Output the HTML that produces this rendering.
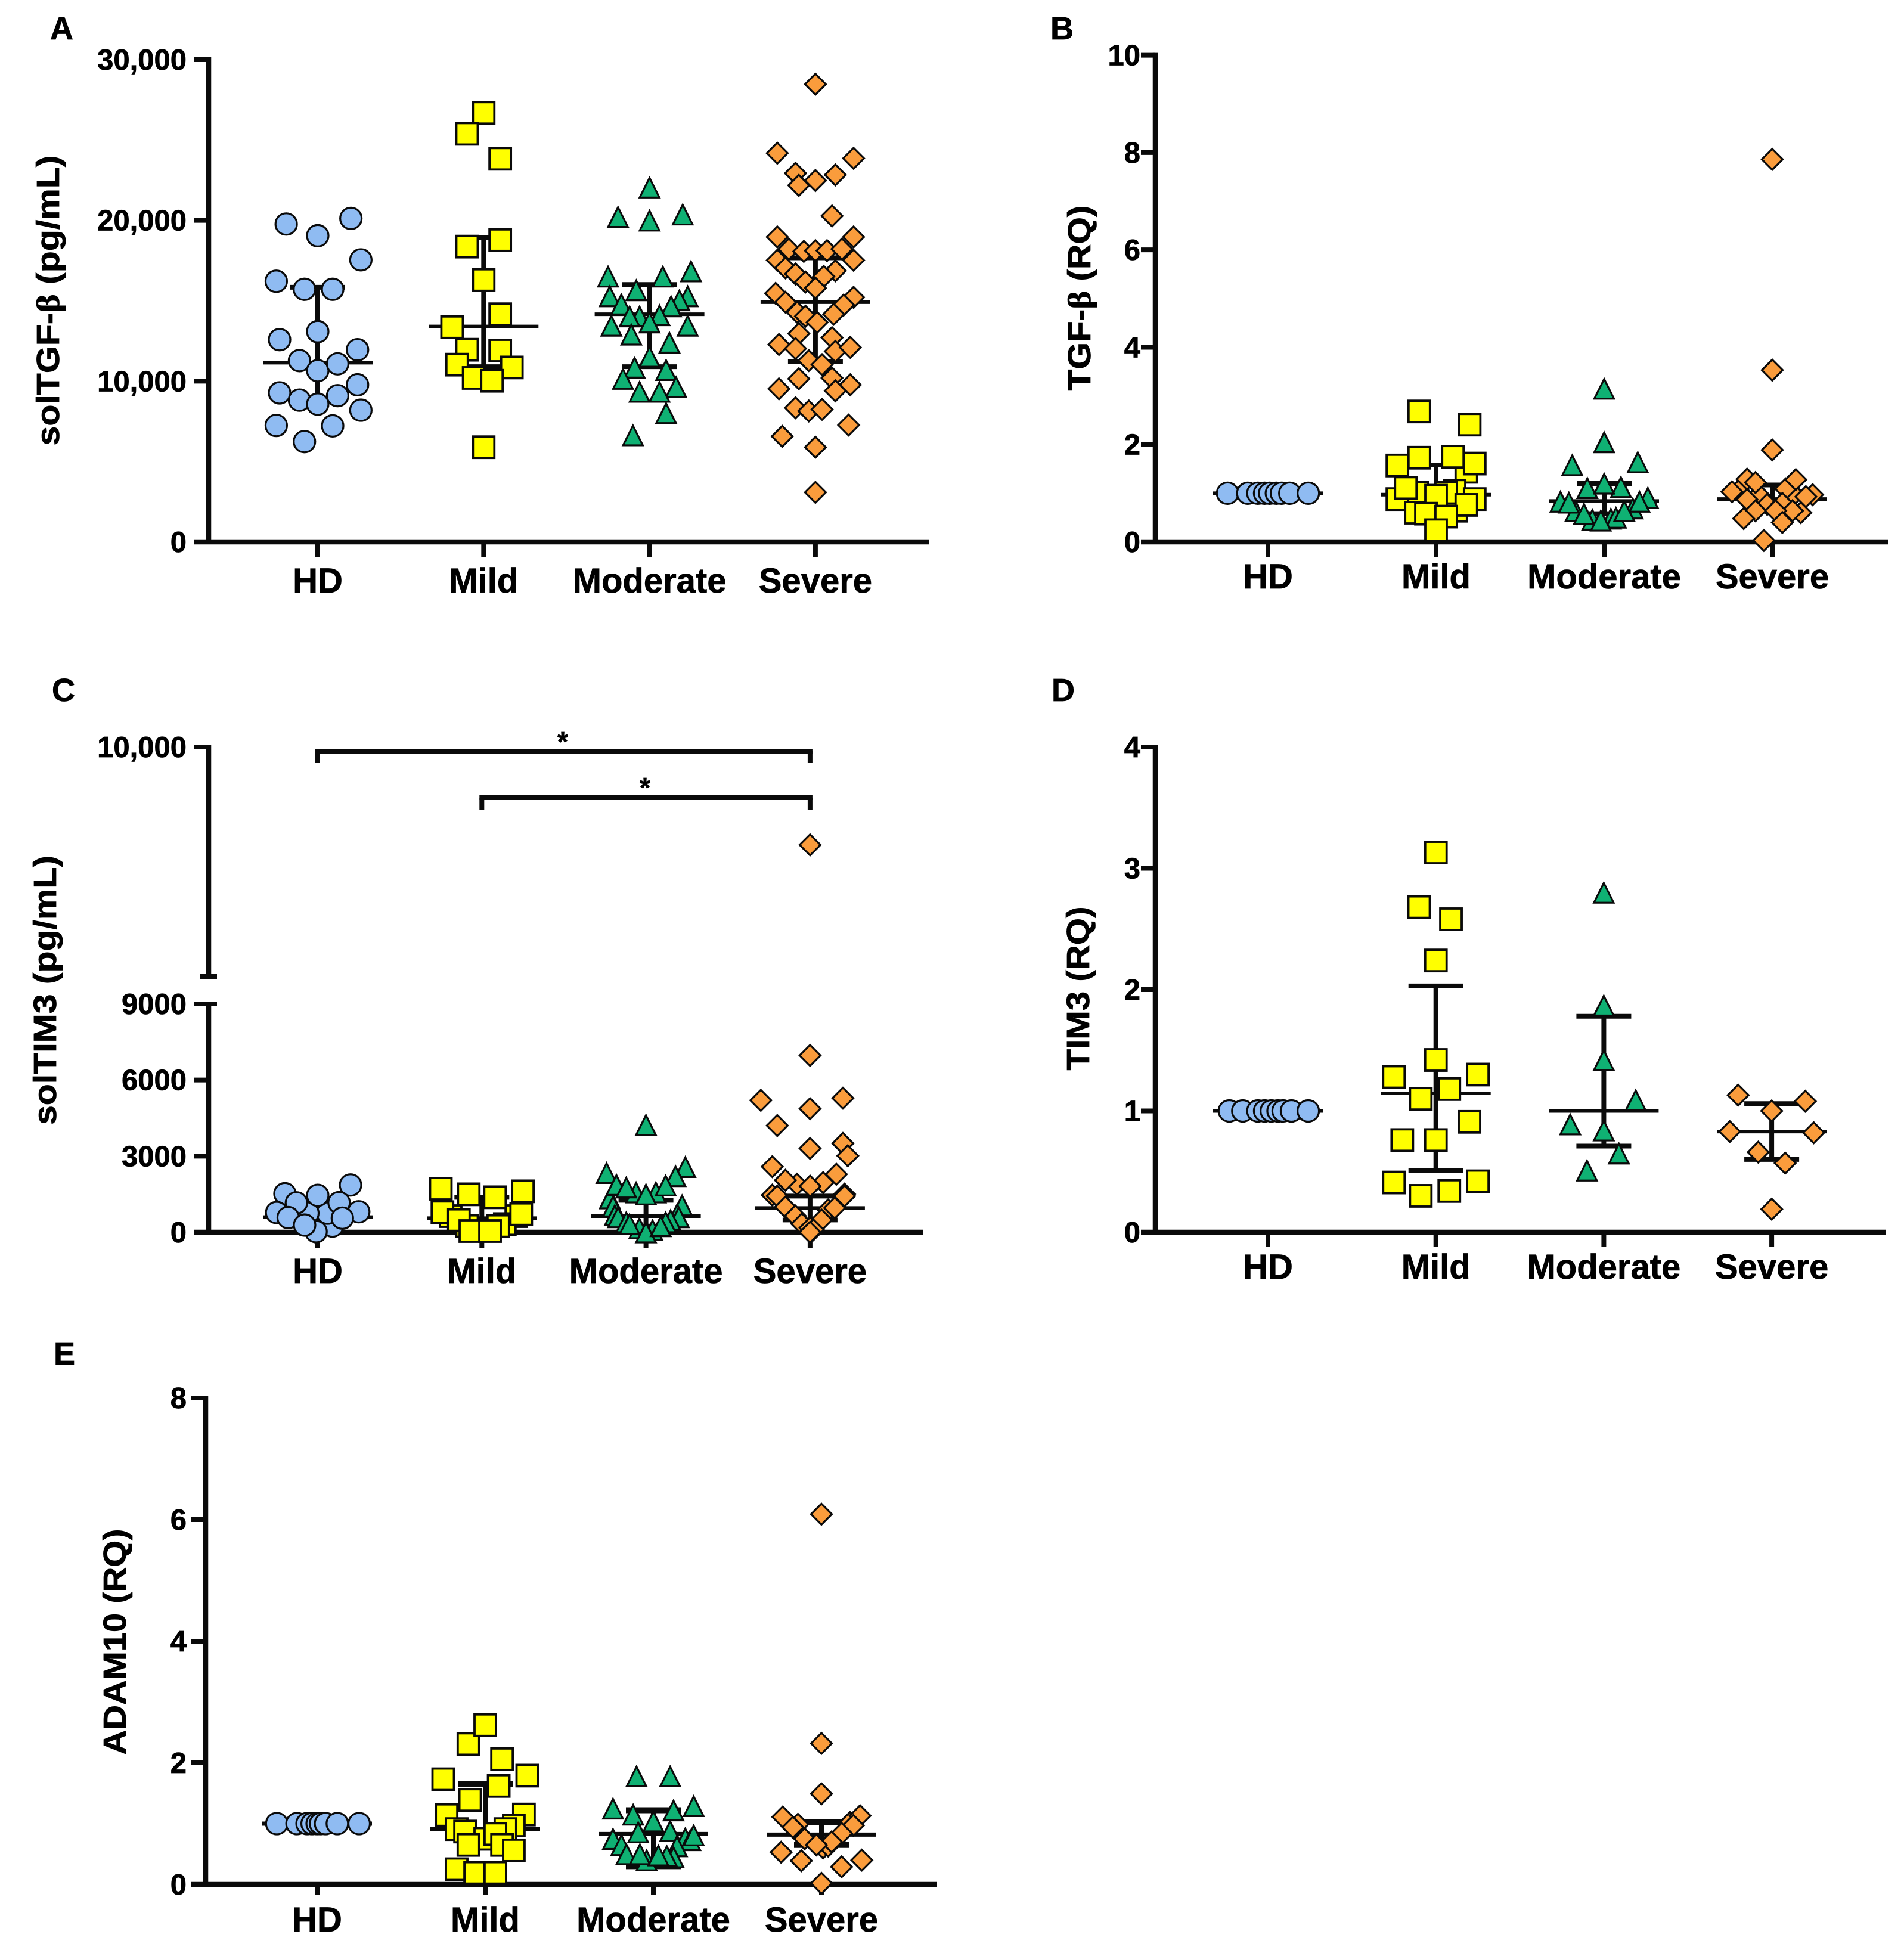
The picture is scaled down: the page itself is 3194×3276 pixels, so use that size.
<!DOCTYPE html>
<html lang="en">
<head>
<meta charset="utf-8">
<title>Soluble and relative expression of TGF-β, TIM3 and ADAM10 by disease severity</title>
<style>
html,body{margin:0;padding:0;background:#fff;width:3194px;height:3276px;overflow:hidden}
svg{display:block}
text{font-family:"Liberation Sans",Arial,sans-serif;font-weight:700;fill:#000;stroke:#000;stroke-width:.7px}
</style>
</head>
<body>
<svg id="figure" xmlns="http://www.w3.org/2000/svg" width="3194" height="3276" viewBox="0 0 3194 3276">
  <rect width="3194" height="3276" fill="#fff"/>
  <text x="84" y="66" font-size="54">A</text>
  <text x="1762" y="66" font-size="54">B</text>
  <text x="87" y="1176" font-size="54">C</text>
  <text x="1764" y="1176" font-size="54">D</text>
  <text x="90" y="2289" font-size="54">E</text>
  <text x="99" y="504" font-size="54" text-anchor="middle" textLength="487" lengthAdjust="spacingAndGlyphs" transform="rotate(-90 99 504)">solTGF-<tspan font-family="Liberation Serif, serif">β</tspan> (pg/mL)</text>
  <text x="1829" y="500" font-size="54" text-anchor="middle" textLength="311" lengthAdjust="spacingAndGlyphs" transform="rotate(-90 1829 500)">TGF-<tspan font-family="Liberation Serif, serif">β</tspan> (RQ)</text>
  <text x="94" y="1661" font-size="54" text-anchor="middle" textLength="452" lengthAdjust="spacingAndGlyphs" transform="rotate(-90 94 1661)">solTIM3 (pg/mL)</text>
  <text x="1827" y="1658" font-size="54" text-anchor="middle" textLength="275" lengthAdjust="spacingAndGlyphs" transform="rotate(-90 1827 1658)">TIM3 (RQ)</text>
  <text x="211" y="2754" font-size="54" text-anchor="middle" textLength="379" lengthAdjust="spacingAndGlyphs" transform="rotate(-90 211 2754)">ADAM10 (RQ)</text>
  <text x="944" y="1260" font-size="46" text-anchor="middle">*</text>
  <text x="1082" y="1337" font-size="46" text-anchor="middle">*</text>
</svg>
<script>
const categories = ['HD', 'Mild', 'Moderate', 'Severe'];

/* Panel A: solTGF-beta (pg/mL). Offsets are percent of the category spacing. */
const aTicks = [0, 10000, 20000, 30000];
const aTickLabels = ['0', '10,000', '20,000', '30,000'];
const aMedians = [11150, 13400, 14160, 14910];
const aUpper = [15840, 18920, 16010, 17670];
const aLower = [8900, 10900, 10900, 11200];
const aHdValues = [19772,19046,20123,17542,16214,15713,15713,13081,12580,11954,11277,10650,11077,9773,9272,8821,8570,9097,8195,7242,7217,6240];
const aHdOffsets = [-19,0,20,26,-25,-8,9,0,-23,24,-11,0,12,24,-23,-11,0,12,26,-25,9,-8];
const aMildValues = [26689,25386,23832,18770,18369,16289,14159,13357,11954,11904,11026,10851,10199,10024,5889];
const aMildOffsets = [0,-10,10,10,-10,0,10,-19,-10,10,-16,17,-6,5,0];
const aModerateValues = [22053,20223,19998,20374,16515,16840,15663,16515,15287,15287,15036,14660,14785,14034,14109,14034,13658,13457,13457,12906,12405,11528,10851,10701,10149,9648,9347,9347,8019,6641];
const aModerateOffsets = [0,-19,0,20,-25,25,-8,8,-24,23,18,13,-17,-6,6,-12,0,-23,23,-11,12,0,-9,10,-16,16,-6,6,10,-10];
const aSevereValues = [28468,24183,23857,22930,22830,22479,22178,20274,18970,18970,18219,18068,18118,18118,18219,17517,17517,17041,16665,16865,16515,16164,15788,15462,15211,14911,14735,14284,14034,14159,13658,12956,12705,12279,12029,11853,12104,11277,11026,10199,10149,9523,9398,9773,8345,8144,8245,7267,6566,5889,3082];
const aSevereOffsets = [0,-23,23,-12,12,0,-10,10,-23,23,-16,-7,0,7,16,-23,23,-18,-12,12,5,-6,0,-24,23,-18,17,-11,-6,11,1,-10,10,-22,-12,12,21,-4,4,10,-10,-22,12,21,-12,-4,4,20,-20,0,0];

/* Panel B: TGF-beta (RQ) */
const bTicks = [0, 2, 4, 6, 8, 10];
const bTickLabels = ['0', '2', '4', '6', '8', '10'];
const bMedians = [1.0, 0.97, 0.84, 0.88];
const bUpper = [1.0, 1.58, 1.2, 1.17];
const bLower = [1.0, 0.5, 0.58, 0.68];
const bHdValues = [1,1,1,1,1,1,1,1,1];
const bHdOffsets = [-24,-12,-6,-2,1,5,8,13,24];
const bMildValues = [2.68,2.41,1.44,1.05,1.01,0.88,0.88,1.57,1.61,0.6,0.64,1.73,1.75,1.11,1.01,0.95,0.76,0.58,0.52,0.24];
const bMildOffsets = [-10,20,18,11,-11,-23,23,-23,23,-12,12,-10,10,-18,6,0,18,-6,6,0];
const bModerateValues = [3.15,2.05,1.58,1.64,0.83,0.91,0.64,0.69,0.46,0.48,0.5,0.81,0.83,1.11,1.13,1.2,0.58,0.64,0.44];
const bModerateOffsets = [0,0,-19,20,-26,26,-17,17,-7,4,7,-21,21,-10,10,0,-12,12,-2];
const bSevereValues = [7.86,3.53,1.89,1.05,0.97,0.97,1.09,0.97,1.29,1.22,1.28,1.03,0.93,0.87,0.77,0.79,0.64,0.6,0.64,0.64,0.48,0.4,0.03];
const bSevereOffsets = [0,0,0,-20,-8,13,8,24,-15,-10,14,-24,20,-15,-3,6,-10,17,12,2,-17,6,-5];

/* Panel C: solTIM3 (pg/mL), broken axis */
const cTicks = [0, 3000, 6000, 9000, 10000];
const cTickLabels = ['0', '3000', '6000', '9000', '10,000'];
const cMedians = [595, 556, 634, 955];
const cUpper = [950, 1378, 1260, 1425];
const cLower = [420, 50, 240, 485];
const cHdValues = [243,752,752,1519,775,1159,1456,1863,1167,806,579,23,282,556];
const cHdOffsets = [9,6,-6,-20,-25,-13,0,20,13,25,-18,-1,-8,15];
const cMildValues = [634,634,321,243,1715,1495,1378,1613,791,712,478,243,47,47];
const cMildOffsets = [-19,21,14,-9,-25,-8,8,25,-24,24,-14,10,-7,5];
const cModerateValues = [4235,2576,2341,1574,1574,1339,2216,1871,1770,1848,1495,1065,1026,673,595,713,595,399,478,399,164,86,321,0,243];
const cModerateOffsets = [0,24,-24,-6,6,-22,18,-18,-12,12,0,22,-20,-19,-17,19,20,-12,15,12,-4,4,-10,0,9];
const cSevereValues = [9616,6971,5199,5285,4870,4205,3304,3500,3015,2584,2286,1895,1958,2051,1817,1503,1464,1425,1425,877,955,994,642,485,329,172,94,0];
const cSevereOffsets = [0,0,-30,20,0,-20,0,20,23,-23,16,-8,8,-15,0,21,-23,-20,21,11,15,-15,-9,7,-5,0,2,0];

/* Panel D: TIM3 (RQ) */
const dTicks = [0, 1, 2, 3, 4];
const dTickLabels = ['0', '1', '2', '3', '4'];
const dMedians = [1.0, 1.145, 1.0, 0.83];
const dUpper = [1.0, 2.03, 1.78, 1.06];
const dLower = [1.0, 0.51, 0.71, 0.6];
const dHdValues = [1,1,1,1,1,1,1,1,1];
const dHdOffsets = [-23,-15,-6,-2,2,6,9,14,24];
const dMildValues = [3.13,2.68,2.58,2.24,1.42,1.28,1.3,1.18,1.1,0.91,0.76,0.76,0.41,0.42,0.34,0.3];
const dMildOffsets = [0,-10,9,0,0,-25,25,8,-9,20,-20,0,-25,25,8,-9];
const dModerateValues = [2.8,1.87,1.42,1.09,0.89,0.84,0.65,0.51];
const dModerateOffsets = [0,0,0,19,-20,0,9,-10];
const dSevereValues = [1.13,1.08,1.0,0.83,0.82,0.66,0.57,0.19];
const dSevereOffsets = [-20,20,0,-25,25,-8,8,0];

/* Panel E: ADAM10 (RQ) */
const eTicks = [0, 2, 4, 6, 8];
const eTickLabels = ['0', '2', '4', '6', '8'];
const eMedians = [1.0, 0.91, 0.83, 0.82];
const eUpper = [1.0, 1.65, 1.22, 1.02];
const eLower = [1.0, 0.65, 0.3, 0.65];
const eHdValues = [1,1,1,1,1,1,1,1,1];
const eHdOffsets = [-24,-12,-6,-3,0,2,5,12,25];
const eMildValues = [2.31,2.62,2.06,1.79,1.73,1.62,1.39,1.14,1.15,0.97,0.91,0.91,0.87,0.75,0.83,0.65,0.65,0.56,0.25,0.19,0.19];
const eMildOffsets = [-10,0,10,25,-25,8,-9,-23,23,17,12,-17,-12,0,6,-10,10,17,-17,-6,6];
const eModerateValues = [1.78,1.78,1.25,1.29,1.15,1.22,1.04,0.86,0.88,0.76,0.73,0.81,0.75,0.65,0.63,0.5,0.45,0.47,0.4,0.5,0.48];
const eModerateOffsets = [-10,10,-24,24,-12,12,0,-9,10,19,22,24,-24,-19,14,-16,12,8,-4,-8,3];
const eSevereValues = [6.09,2.32,1.49,0.99,1.11,0.94,1.02,1.13,0.97,0.84,0.75,0.6,0.63,0.7,0.65,0.53,0.39,0.29,0.4,0.02];
const eSevereOffsets = [0,0,0,-14,-23,-17,17,23,19,12,-10,1,4,6,-3,-24,-12,12,24,0];

const svg = document.getElementById('figure');
const NS = 'http://www.w3.org/2000/svg';
const INK = '#0a0a0a';
const seriesFills = ['#8fbbf2', '#ffff00', '#0fb173', '#fa9c3c'];

function line(parent, name, x1, y1, x2, y2, width) {
  const el = document.createElementNS(NS, 'line');
  
  
  el.setAttribute('x1', x1);
  el.setAttribute('y1', y1);
  el.setAttribute('x2', x2);
  el.setAttribute('y2', y2);
  el.setAttribute('stroke', INK);
  el.setAttribute('stroke-width', width);
  parent.appendChild(el);
}

function label(parent, name, content, x, y, size, anchor) {
  const el = document.createElementNS(NS, 'text');
  
  
  el.setAttribute('x', x);
  el.setAttribute('y', y);
  el.setAttribute('font-size', size);
  el.setAttribute('text-anchor', anchor);
  el.textContent = content;
  parent.appendChild(el);
}

function marker(parent, groupIndex, x, y) {
  let el;
  let strokeWidth = 3.2;
  if (groupIndex === 0) {
    el = document.createElementNS(NS, 'circle');
    el.setAttribute('cx', x);
    el.setAttribute('cy', y);
    el.setAttribute('r', 18);
  } else if (groupIndex === 1) {
    el = document.createElementNS(NS, 'rect');
    el.setAttribute('x', x - 18);
    el.setAttribute('y', y - 18);
    el.setAttribute('width', 36);
    el.setAttribute('height', 36);
    strokeWidth = 3.8;
  } else if (groupIndex === 2) {
    el = document.createElementNS(NS, 'polygon');
    el.setAttribute('points', (x) + ',' + (y - 16) + ' ' + (x + 16.5) + ',' + (y + 17) + ' ' + (x - 16.5) + ',' + (y + 17));
  } else {
    el = document.createElementNS(NS, 'polygon');
    el.setAttribute('points', (x) + ',' + (y - 17.5) + ' ' + (x + 17.5) + ',' + (y) + ' ' + (x) + ',' + (y + 17.5) + ' ' + (x - 17.5) + ',' + (y));
  }
  
  
  el.setAttribute('fill', seriesFills[groupIndex]);
  el.setAttribute('stroke', INK);
  el.setAttribute('stroke-width', strokeWidth);
  el.setAttribute('stroke-linejoin', 'miter');
  parent.appendChild(el);
}

function drawPanel(cfg) {
  const g = document.createElementNS(NS, 'g');
  
  
  svg.appendChild(g);

  const xOf = function (cat, offset) { return cfg.firstX + cat * cfg.spacing + (offset / 100) * cfg.spacing; };

  /* error bars behind the markers */
  cfg.medians.forEach(function (m, i) {
    const cx = xOf(i, 0);
    line(g, 'whisker-' + categories[i].toLowerCase(), cx, cfg.y(cfg.upper[i]), cx, cfg.y(cfg.lower[i]), 8);
    line(g, 'upper-cap-' + categories[i].toLowerCase(), cx - 46, cfg.y(cfg.upper[i]), cx + 46, cfg.y(cfg.upper[i]), cfg.capWidth);
    line(g, 'lower-cap-' + categories[i].toLowerCase(), cx - 46, cfg.y(cfg.lower[i]), cx + 46, cfg.y(cfg.lower[i]), cfg.capWidth);
    line(g, 'median-line-' + categories[i].toLowerCase(), cx - 92, cfg.y(m), cx + 92, cfg.y(m), cfg.medianWidth);
  });

  /* axes */
  cfg.axisSegments.forEach(function (seg, i) {
    line(g, 'y-axis-line-' + i, cfg.axisX, seg[0], cfg.axisX, seg[1], 8.5);
  });
  line(g, 'x-axis-line', cfg.axisX - 24, cfg.y(0), cfg.xEnd, cfg.y(0), 8.5);
  cfg.ticks.forEach(function (t, i) {
    const py = cfg.y(t);
    line(g, 'y-tick-' + cfg.tickLabels[i], cfg.axisX - 24, py, cfg.axisX, py, 8);
    label(g, 'y-tick-label-' + cfg.tickLabels[i], cfg.tickLabels[i], cfg.tickRight, py + 17, 49, 'end');
  });
  categories.forEach(function (c, i) {
    line(g, 'x-tick-' + c.toLowerCase(), xOf(i, 0), cfg.y(0), xOf(i, 0), cfg.y(0) + cfg.xTickLength, 8);
    label(g, 'x-tick-label-' + c.toLowerCase(), c, xOf(i, 0), cfg.labelY, 58, 'middle');
  });

  /* data points */
  cfg.values.forEach(function (vals, groupIndex) {
    vals.forEach(function (v, k) {
      marker(g, groupIndex, xOf(groupIndex, cfg.offsets[groupIndex][k]), cfg.y(v));
    });
  });
  return g;
}

function linearY(maxValue, y0, yTop) {
  return function (v) { return y0 + (yTop - y0) * v / maxValue; };
}

drawPanel({
  id: 'a', firstX: 533, spacing: 278.3, axisX: 350, xEnd: 1558, tickRight: 313, labelY: 994,
  capWidth: 8, medianWidth: 6, xTickLength: 25,
  y: linearY(30000, 909, 100), axisSegments: [[96, 913]],
  ticks: aTicks, tickLabels: aTickLabels, medians: aMedians, upper: aUpper, lower: aLower,
  values: [aHdValues, aMildValues, aModerateValues, aSevereValues],
  offsets: [aHdOffsets, aMildOffsets, aModerateOffsets, aSevereOffsets]
});

drawPanel({
  id: 'b', firstX: 2127, spacing: 282, axisX: 1938, xEnd: 3167, tickRight: 1913, labelY: 987,
  capWidth: 8, medianWidth: 6, xTickLength: 25,
  y: linearY(10, 909, 92.6), axisSegments: [[88.6, 913]],
  ticks: bTicks, tickLabels: bTickLabels, medians: bMedians, upper: bUpper, lower: bLower,
  values: [bHdValues, bMildValues, bModerateValues, bSevereValues],
  offsets: [bHdOffsets, bMildOffsets, bModerateOffsets, bSevereOffsets]
});

function brokenY(v) {
  if (v <= 9000) { return 2067 + (1684 - 2067) * v / 9000; }
  return 1638 + (1253 - 1638) * (v - 9100) / 900;
}

const panelC = drawPanel({
  id: 'c', firstX: 533, spacing: 275.3, axisX: 350, xEnd: 1549, tickRight: 313, labelY: 2152,
  capWidth: 8, medianWidth: 6, xTickLength: 26,
  y: brokenY, axisSegments: [[1249, 1638], [1684, 2071]],
  ticks: cTicks, tickLabels: cTickLabels, medians: cMedians, upper: cUpper, lower: cLower,
  values: [cHdValues, cMildValues, cModerateValues, cSevereValues],
  offsets: [cHdOffsets, cMildOffsets, cModerateOffsets, cSevereOffsets]
});
line(panelC, 'axis-break-cap-upper', 336, 1638, 364, 1638, 8);
line(panelC, 'axis-break-cap-lower', 336, 1684, 364, 1684, 8);

/* significance brackets span category centres of panel C */
function bracket(name, fromCat, toCat, y) {
  const a = 533 + fromCat * 275.3;
  const b = 533 + toCat * 275.3;
  line(panelC, name + '-bar', a - 4, y, b + 4, y, 8);
  line(panelC, name + '-left-drop', a, y, a, y + 20, 8);
  line(panelC, name + '-right-drop', b, y, b, y + 20, 8);
}
bracket('bracket-hd-severe', 0, 3, 1260);
bracket('bracket-mild-severe', 1, 3, 1338);

drawPanel({
  id: 'd', firstX: 2127, spacing: 281.7, axisX: 1938, xEnd: 3164, tickRight: 1913, labelY: 2145,
  capWidth: 8, medianWidth: 6, xTickLength: 25,
  y: linearY(4, 2067, 1253), axisSegments: [[1249, 2071]],
  ticks: dTicks, tickLabels: dTickLabels, medians: dMedians, upper: dUpper, lower: dLower,
  values: [dHdValues, dMildValues, dModerateValues, dSevereValues],
  offsets: [dHdOffsets, dMildOffsets, dModerateOffsets, dSevereOffsets]
});

drawPanel({
  id: 'e', firstX: 532, spacing: 282, axisX: 345, xEnd: 1571, tickRight: 313, labelY: 3240,
  capWidth: 10, medianWidth: 7, xTickLength: 18,
  y: linearY(8, 3161, 2345), axisSegments: [[2341, 3165]],
  ticks: eTicks, tickLabels: eTickLabels, medians: eMedians, upper: eUpper, lower: eLower,
  values: [eHdValues, eMildValues, eModerateValues, eSevereValues],
  offsets: [eHdOffsets, eMildOffsets, eModerateOffsets, eSevereOffsets]
});
</script>
</body>
</html>
